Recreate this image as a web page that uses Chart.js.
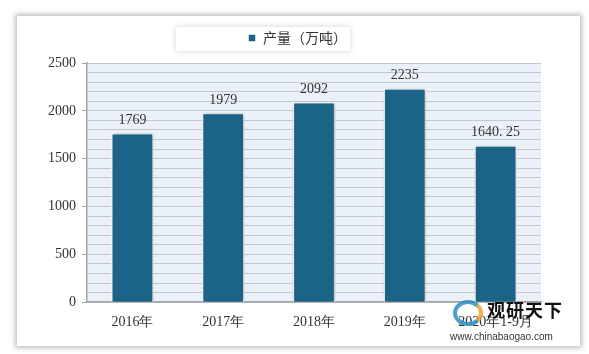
<!DOCTYPE html>
<html>
<head>
<meta charset="utf-8">
<script src="https://cdn.jsdelivr.net/npm/chart.js@4.4.0/dist/chart.umd.min.js"></script>
<style>
  html, body { margin: 0; padding: 0; background: #fff; }
  #wrap { position: relative; width: 589px; height: 354px; }
  #frame { position: absolute; left: 17px; top: 16px; width: 563px; height: 330px;
           background: #fff; box-shadow: 0 0 5px 2px rgba(0,0,0,0.25); }
  canvas { position: absolute; left: 0; top: 0; }
  #mark { position: absolute; left: 450px; top: 314px; font-family: "Noto Sans CJK SC", sans-serif; color: #111; }
  #mark .name { position: absolute; left: 37px; top: -18px; font-size: 18px; font-weight: bold; letter-spacing: 1px; white-space: nowrap; }
  #mark .url { position: absolute; left: 0; top: 17px; font-size: 10px; font-family: "Liberation Sans", sans-serif; white-space: nowrap; color: #333; }
  #mark .logo { position: absolute; left: 3px; top: -14px; width: 30px; height: 26px; border-radius: 50%;
                border: 4px solid #2c8fc4; border-right-color: #f0a030; box-sizing: border-box; opacity: 0.85; }
</style>
</head>
<body>
<div id="wrap">
  <div id="frame"></div>
  <canvas id="c" width="589" height="354"></canvas>
  <div id="mark"><div class="logo"></div><div class="name">观研天下</div><div class="url">www.chinabaogao.com</div></div>
</div>
<script>
const years = ['2016年', '2017年', '2018年', '2019年', '2020年1-9月'];
const output = [1769, 1979, 2092, 2235, 1640.25];
const outputLabels = ['1769', '1979', '2092', '2235', '1640. 25'];

const barColor = '#1b6488';
const textColor = '#333333';
const serif = '"Liberation Serif", "DejaVu Serif", serif';

// extra room under the legend, and nudge it a bit to the right
const legendGapPlugin = {
    id: 'legendGap',
    beforeInit(chart) {
        const fit = chart.legend.fit;
        chart.legend.fit = function () {
            fit.bind(chart.legend)();
            this.height += 8;
        };
    },
    afterLayout(chart) {
        chart.legend.left += 6;
        chart.legend.right += 6;
    }
};

// light blue plot background + legend box
const backdropPlugin = {
    id: 'backdrop',
    beforeDraw(chart) {
        const { ctx, chartArea: a } = chart;
        ctx.save();
        ctx.fillStyle = '#eaf1f8';
        ctx.fillRect(a.left, a.top, a.right - a.left, a.bottom - a.top);
        const lg = chart.legend;
        ctx.shadowColor = 'rgba(0,0,0,0.18)';
        ctx.shadowBlur = 6;
        ctx.fillStyle = '#fff';
        ctx.fillRect(176, lg.top + 2, 174, 24);
        ctx.restore();
    }
};

const barShadowPlugin = {
    id: 'barShadow',
    beforeDatasetsDraw(chart) {
        const ctx = chart.ctx;
        ctx.save();
        ctx.shadowColor = 'rgba(0,0,0,0.35)';
        ctx.shadowBlur = 5;
        ctx.shadowOffsetX = 1;
        ctx.shadowOffsetY = 0;
    },
    afterDatasetsDraw(chart) {
        chart.ctx.restore();
        const { ctx } = chart;
        const meta = chart.getDatasetMeta(0);
        ctx.save();
        ctx.font = '14px ' + serif;
        ctx.fillStyle = textColor;
        ctx.textAlign = 'center';
        ctx.textBaseline = 'bottom';
        meta.data.forEach((bar, i) => {
            ctx.fillText(outputLabels[i], bar.x, bar.y - 6);
        });
        ctx.restore();
    }
};

new Chart(document.getElementById('c'), {
    type: 'bar',
    data: {
        labels: years,
        datasets: [{
            label: '产量（万吨）',
            data: output,
            backgroundColor: barColor,
            borderColor: '#ffffff',
            borderWidth: 1.5,
            barPercentage: 0.47,
            categoryPercentage: 1
        }]
    },
    options: {
        responsive: false,
        animation: false,
        layout: { padding: { left: 42, right: 48, top: 25, bottom: 19 } },
        scales: {
            x: {
                grid: { display: false },
                border: { color: '#a0a4a8', width: 1.5 },
                ticks: { color: textColor, font: { family: serif, size: 14 }, padding: 4 }
            },
            y: {
                min: 0, max: 2500,
                grid: {
                    color: '#c4c8cc',
                    lineWidth: 1,
                    tickLength: 5,
                    tickColor: c => (c.tick && c.tick.value % 500 === 0) ? '#a0a4a8' : 'rgba(0,0,0,0)'
                },
                border: { color: '#a0a4a8', width: 1.5 },
                ticks: {
                    stepSize: 100,
                    autoSkip: false,
                    color: textColor,
                    font: { family: serif, size: 14 },
                    padding: 6,
                    callback: v => v % 500 === 0 ? v : ''
                }
            }
        },
        plugins: {
            legend: {
                labels: {
                    boxWidth: 8, boxHeight: 8,
                    color: textColor,
                    font: { family: '"Noto Sans CJK SC", sans-serif', size: 14 },
                    padding: 6
                }
            },
            tooltip: { enabled: false }
        }
    },
    plugins: [legendGapPlugin, backdropPlugin, barShadowPlugin]
});
</script>
</body>
</html>
